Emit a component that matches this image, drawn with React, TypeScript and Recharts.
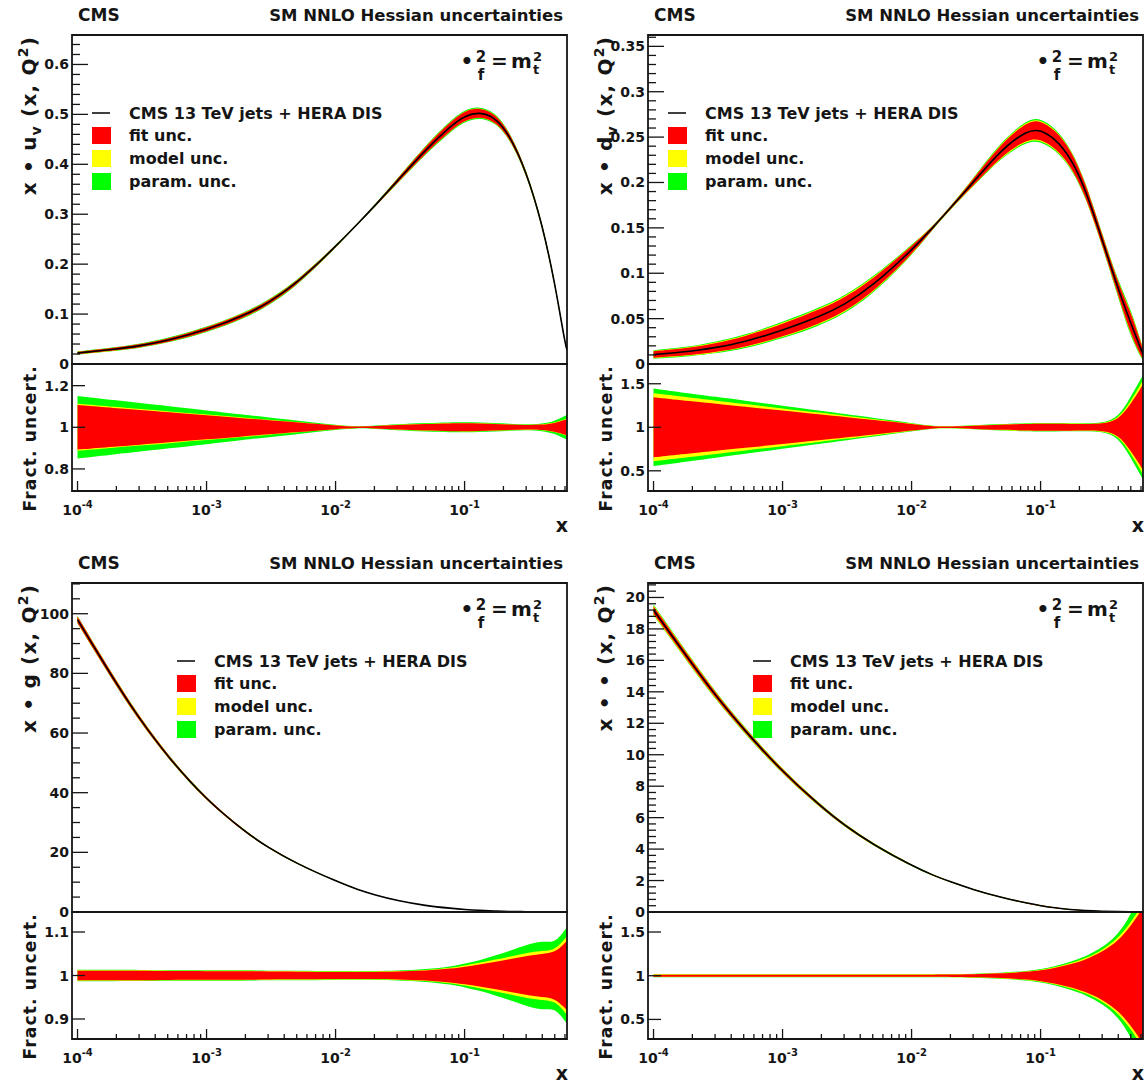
import React from 'react';
import { ComposedChart, Area, Line, XAxis, YAxis, ReferenceArea } from 'recharts';

// ---------------- data ----------------
const X = [1e-4, 2e-4, 3e-4, 5e-4, 1e-3, 2e-3, 3e-3, 5e-3, 0.01, 0.015, 0.02, 0.03, 0.05, 0.08, 0.1, 0.13, 0.17, 0.22, 0.3, 0.4, 0.5, 0.6, 0.622];
const X_DOMAIN: [number, number] = [9.06e-5, 0.622];
const X_MAJOR = [1e-4, 1e-3, 1e-2, 1e-1];
const X_MAJOR_EXP = ['-4', '-3', '-2', '-1'];

// x * u_v
const UV = [0.022, 0.030, 0.036, 0.047, 0.068, 0.098, 0.122, 0.161, 0.235, 0.282, 0.316, 0.366, 0.430, 0.479, 0.497, 0.505, 0.495, 0.462, 0.387, 0.280, 0.163, 0.042, 0.028];
const UV_FIT = [0.107, 0.092, 0.084, 0.073, 0.058, 0.043, 0.034, 0.024, 0.009, 0.002, 0.006, 0.011, 0.016, 0.019, 0.019, 0.018, 0.016, 0.013, 0.010, 0.012, 0.020, 0.035, 0.040];
const UV_MODEL = [0.113, 0.097, 0.088, 0.077, 0.061, 0.046, 0.036, 0.025, 0.0095, 0.002, 0.006, 0.012, 0.017, 0.020, 0.020, 0.019, 0.017, 0.014, 0.011, 0.013, 0.022, 0.038, 0.043];
const UV_PARAM = [0.150, 0.129, 0.117, 0.102, 0.081, 0.060, 0.048, 0.033, 0.012, 0.003, 0.008, 0.014, 0.021, 0.024, 0.024, 0.023, 0.021, 0.017, 0.013, 0.017, 0.030, 0.055, 0.060];

// x * d_v
const DV = [0.0105, 0.014, 0.018, 0.024, 0.037, 0.053, 0.065, 0.086, 0.125, 0.152, 0.172, 0.200, 0.237, 0.258, 0.258, 0.248, 0.228, 0.195, 0.137, 0.082, 0.045, 0.016, 0.011];
const DV_FIT = [0.345, 0.299, 0.272, 0.238, 0.192, 0.146, 0.119, 0.085, 0.038, 0.008, 0.008, 0.018, 0.030, 0.038, 0.040, 0.040, 0.039, 0.037, 0.040, 0.080, 0.27, 0.45, 0.50];
const DV_MODEL = [0.390, 0.338, 0.307, 0.269, 0.217, 0.165, 0.134, 0.096, 0.043, 0.009, 0.009, 0.020, 0.034, 0.042, 0.044, 0.044, 0.043, 0.040, 0.043, 0.090, 0.30, 0.50, 0.54];
const DV_PARAM = [0.445, 0.385, 0.351, 0.307, 0.247, 0.188, 0.153, 0.109, 0.049, 0.010, 0.010, 0.023, 0.038, 0.047, 0.050, 0.049, 0.047, 0.044, 0.048, 0.110, 0.35, 0.56, 0.60];

// x * g
const GL = [98, 76.5, 65, 52, 37.5, 26.8, 21.6, 16.2, 10.4, 7.4, 5.8, 3.8, 2.1, 1.2, 0.85, 0.55, 0.33, 0.18, 0.08, 0.03, 0.012, 0.004, 0.003];
const GL_FIT = [0.011, 0.011, 0.011, 0.010, 0.010, 0.010, 0.009, 0.009, 0.008, 0.008, 0.008, 0.009, 0.011, 0.016, 0.020, 0.025, 0.031, 0.037, 0.045, 0.050, 0.052, 0.075, 0.080];
const GL_MODEL = [0.012, 0.012, 0.012, 0.011, 0.011, 0.011, 0.010, 0.010, 0.009, 0.009, 0.009, 0.010, 0.012, 0.018, 0.023, 0.029, 0.036, 0.043, 0.052, 0.057, 0.058, 0.085, 0.090];
const GL_PARAM = [0.013, 0.013, 0.013, 0.012, 0.012, 0.012, 0.011, 0.011, 0.010, 0.010, 0.010, 0.011, 0.014, 0.021, 0.027, 0.035, 0.045, 0.056, 0.070, 0.080, 0.074, 0.105, 0.110];

// x * (sea)
const SE = [19.2, 15.75, 13.8, 11.6, 8.9, 6.68, 5.53, 4.30, 2.95, 2.30, 1.92, 1.42, 0.91, 0.55, 0.40, 0.26, 0.155, 0.09, 0.048, 0.02, 0.008, 0.003, 0.002];
const SE_FIT = [0.012, 0.012, 0.012, 0.012, 0.012, 0.012, 0.012, 0.012, 0.012, 0.012, 0.013, 0.016, 0.025, 0.045, 0.060, 0.090, 0.13, 0.18, 0.27, 0.40, 0.57, 0.74, 0.80];
const SE_MODEL = [0.016, 0.016, 0.016, 0.016, 0.016, 0.016, 0.016, 0.016, 0.016, 0.016, 0.016, 0.019, 0.029, 0.050, 0.066, 0.098, 0.14, 0.195, 0.29, 0.43, 0.61, 0.79, 0.86];
const SE_PARAM = [0.018, 0.018, 0.018, 0.018, 0.018, 0.018, 0.018, 0.018, 0.018, 0.018, 0.018, 0.022, 0.033, 0.056, 0.075, 0.110, 0.16, 0.215, 0.32, 0.47, 0.70, 0.95, 1.0];

// tick labels
const UV_TICKS = [0, 0.1, 0.2, 0.3, 0.4, 0.5, 0.6];
const UV_TICK_LABELS = ['0', '0.1', '0.2', '0.3', '0.4', '0.5', '0.6'];
const DV_TICKS = [0, 0.05, 0.1, 0.15, 0.2, 0.25, 0.3, 0.35];
const DV_TICK_LABELS = ['0', '0.05', '0.1', '0.15', '0.2', '0.25', '0.3', '0.35'];
const GL_TICKS = [0, 20, 40, 60, 80, 100];
const GL_TICK_LABELS = ['0', '20', '40', '60', '80', '100'];
const SE_TICKS = [0, 2, 4, 6, 8, 10, 12, 14, 16, 18, 20];
const SE_TICK_LABELS = ['0', '2', '4', '6', '8', '10', '12', '14', '16', '18', '20'];
const R_UV_TICKS = [0.8, 1, 1.2];
const R_UV_LABELS = ['0.8', '1', '1.2'];
const R_DV_TICKS = [0.5, 1, 1.5];
const R_DV_LABELS = ['0.5', '1', '1.5'];
const R_GL_TICKS = [0.9, 1, 1.1];
const R_GL_LABELS = ['0.9', '1', '1.1'];
const R_SE_TICKS = [0.5, 1, 1.5];
const R_SE_LABELS = ['0.5', '1', '1.5'];

const LEGEND_LINE = 'CMS 13 TeV jets + HERA DIS';
const LEGEND_BANDS = ['fit unc.', 'model unc.', 'param. unc.'];
const BAND_COLORS = ['#ff0000', '#ffff00', '#00ff00'];

// ---------------- helpers ----------------
const FONT = '"DejaVu Sans", "Liberation Sans", Arial, sans-serif';
const INK = '#151515';
const CURVE = 'basis';

function buildRows(c: number[], fit: number[], model: number[], param: number[]) {
  return X.map((x, i) => ({
    x,
    c: c[i],
    fit: [c[i] * (1 - fit[i]), c[i] * (1 + fit[i])],
    model: [c[i] * (1 - model[i]), c[i] * (1 + model[i])],
    param: [c[i] * (1 - param[i]), c[i] * (1 + param[i])],
    rfit: [1 - fit[i], 1 + fit[i]],
    rmodel: [1 - model[i], 1 + model[i]],
    rparam: [1 - param[i], 1 + param[i]],
  }));
}

function makeX() {
  const out: number[] = [];
  for (let e = -4; e <= -1; e++) {
    for (let k = 1; k <= 9; k++) {
      const v = k * Math.pow(10, e);
      if (v >= X_DOMAIN[0] && v <= X_DOMAIN[1]) out.push(+v.toPrecision(6));
    }
  }
  return out;
}
const X_TICKS = makeX();

function makeY(dom: [number, number], step: number) {
  const out: number[] = [];
  for (let k = 0; k < 1000; k++) {
    const v = +(dom[0] + k * step).toFixed(6);
    if (v > dom[1] + 1e-9) break;
    out.push(v);
  }
  return out;
}

const XTick = (props: any) => {
  const { x, y, payload, showLabel } = props;
  const v = payload.value;
  const idx = X_MAJOR.findIndex((m) => Math.abs(Math.log10(m) - Math.log10(v)) < 1e-6);
  const len = idx >= 0 ? 10 : 5;
  return (
    <g>
      <line x1={x} x2={x} y1={y} y2={y - len} stroke={INK} strokeWidth={1.3} />
      {showLabel && idx >= 0 && (
        <text x={x} y={y + 24} textAnchor="middle" fontFamily={FONT} fontWeight="bold" fontSize={14} fill={INK}>
          10<tspan dy={-7} fontSize={10}>{X_MAJOR_EXP[idx]}</tspan>
        </text>
      )}
    </g>
  );
};

const YTick = (props: any) => {
  const { x, y, payload, majors, labels, majorLen, minorLen } = props;
  const v = payload.value;
  const idx = majors.findIndex((m: number) => Math.abs(m - v) < 1e-6 * Math.max(1, Math.abs(m)));
  const len = idx >= 0 ? majorLen : minorLen;
  return (
    <g>
      <line x1={x} x2={x + len} y1={y} y2={y} stroke={INK} strokeWidth={1.3} />
      {idx >= 0 && (
        <text x={x - 3} y={y + 5} textAnchor="end" fontFamily={FONT} fontWeight="bold" fontSize={14} fill={INK}>
          {labels[idx]}
        </text>
      )}
    </g>
  );
};

function Subplot(props: any) {
  const { fl, fr, top, bottom, rows, yDom, yTicks, majors, labels, majorLen, minorLen, ratio, xAxisH } = props;
  const LW = 70;
  const PAD = 3;
  const fw = fr - fl;
  const fh = bottom - top;
  const k = ratio ? 'r' : '';
  return (
    <div style={{ position: 'absolute', left: fl - LW, top: top - PAD }}>
      <ComposedChart
        width={LW + fw + PAD}
        height={PAD + fh + xAxisH}
        data={rows}
        margin={{ top: PAD, right: PAD, bottom: 0, left: 0 }}
      >
        <XAxis
          dataKey="x"
          type="number"
          scale="log"
          domain={X_DOMAIN}
          allowDataOverflow
          ticks={X_TICKS}
          interval={0}
          height={xAxisH}
          tickSize={0}
          tickMargin={0}
          axisLine={false}
          tickLine={false}
          tick={(p: any) => <XTick {...p} showLabel={ratio} />}
        />
        <YAxis
          type="number"
          domain={yDom}
          allowDataOverflow
          ticks={yTicks}
          interval={0}
          width={LW}
          tickSize={0}
          tickMargin={0}
          axisLine={false}
          tickLine={false}
          tick={(p: any) => <YTick {...p} majors={majors} labels={labels} majorLen={majorLen} minorLen={minorLen} />}
        />
        <Area dataKey={k + 'param'} type={CURVE} fill={BAND_COLORS[2]} fillOpacity={1} stroke="none" isAnimationActive={false} />
        <Area dataKey={k + 'model'} type={CURVE} fill={BAND_COLORS[1]} fillOpacity={1} stroke="none" isAnimationActive={false} />
        <Area dataKey={k + 'fit'} type={CURVE} fill={BAND_COLORS[0]} fillOpacity={1} stroke="none" isAnimationActive={false} />
        {!ratio && (
          <Line dataKey="c" type={CURVE} stroke="#000" strokeWidth={1.6} dot={false} isAnimationActive={false} />
        )}
        <ReferenceArea x1={X_DOMAIN[0]} x2={X_DOMAIN[1]} y1={yDom[0]} y2={yDom[1]} fill="none" fillOpacity={0} stroke={INK} strokeWidth={1.8} />
      </ComposedChart>
    </div>
  );
}

type Part = { t: string; sub?: boolean; sup?: boolean };

const PANELS = [
  {
    fl: 72, fr: 567, ft: 35, fm: 364, fb: 491,
    rows: buildRows(UV, UV_FIT, UV_MODEL, UV_PARAM),
    yDom: [0, 0.659], yStep: 0.02, majors: UV_TICKS, labels: UV_TICK_LABELS,
    rDom: [0.694, 1.304], rMajors: R_UV_TICKS, rLabels: R_UV_LABELS,
    title: [{ t: 'x • u' }, { t: 'v', sub: true }, { t: ' (x, Q' }, { t: '2', sup: true }, { t: ')' }] as Part[],
    legDx: 20,
  },
  {
    fl: 648, fr: 1143, ft: 35, fm: 364, fb: 491,
    rows: buildRows(DV, DV_FIT, DV_MODEL, DV_PARAM),
    yDom: [0, 0.3625], yStep: 0.01, majors: DV_TICKS, labels: DV_TICK_LABELS,
    rDom: [0.268, 1.727], rMajors: R_DV_TICKS, rLabels: R_DV_LABELS,
    title: [{ t: 'x • d' }, { t: 'v', sub: true }, { t: ' (x, Q' }, { t: '2', sup: true }, { t: ')' }] as Part[],
    legDx: 20,
  },
  {
    fl: 72, fr: 567, ft: 583, fm: 912, fb: 1039,
    rows: buildRows(GL, GL_FIT, GL_MODEL, GL_PARAM),
    yDom: [0, 110.3], yStep: 5, majors: GL_TICKS, labels: GL_TICK_LABELS,
    rDom: [0.854, 1.146], rMajors: R_GL_TICKS, rLabels: R_GL_LABELS,
    title: [{ t: 'x • g (x, Q' }, { t: '2', sup: true }, { t: ')' }] as Part[],
    legDx: 105,
  },
  {
    fl: 648, fr: 1143, ft: 583, fm: 912, fb: 1039,
    rows: buildRows(SE, SE_FIT, SE_MODEL, SE_PARAM),
    yDom: [0, 20.92], yStep: 0.4, majors: SE_TICKS, labels: SE_TICK_LABELS,
    rDom: [0.276, 1.729], rMajors: R_SE_TICKS, rLabels: R_SE_LABELS,
    title: [{ t: 'x • • (x, Q' }, { t: '2', sup: true }, { t: ')' }] as Part[],
    legDx: 105,
  },
];

function RotTitle({ x, y, parts, size }: { x: number; y: number; parts: Part[]; size: number }) {
  let shift = 0;
  const spans = parts.map((p, i) => {
    const target = p.sub ? 5 : p.sup ? -8 : 0;
    const dy = target - shift;
    shift = target;
    return (
      <tspan key={i} dy={dy} fontSize={p.sub || p.sup ? size * 0.7 : size}>
        {p.t}
      </tspan>
    );
  });
  return (
    <text
      x={x}
      y={y}
      transform={`rotate(-90 ${x} ${y})`}
      textAnchor="end"
      fontSize={size}
      letterSpacing={1.2}
      style={{ whiteSpace: 'pre' }}
    >
      {spans}
    </text>
  );
}

function PanelText({ p }: { p: any }) {
  const { fl, fr, ft, fm, fb, legDx, title } = p;
  const lx = fl + legDx;
  return (
    <g fontFamily={FONT} fontWeight="bold" fill={INK}>
      <text x={fl + 6} y={ft - 14} fontSize={17}>CMS</text>
      <text x={fr - 4} y={ft - 14} fontSize={16.5} textAnchor="end">SM NNLO Hessian uncertainties</text>

      {/* mu_f^2 = m_t^2 */}
      <text x={fr - 100} y={ft + 33} fontSize={20} textAnchor="middle">•</text>
      <text x={fr - 86} y={ft + 27} fontSize={15} textAnchor="middle">2</text>
      <text x={fr - 86} y={ft + 45} fontSize={15} textAnchor="middle">f</text>
      <text x={fr - 76} y={ft + 33} fontSize={20}>=</text>
      <text x={fr - 56} y={ft + 33} fontSize={20}>m</text>
      <text x={fr - 34} y={ft + 39} fontSize={13}>t</text>
      <text x={fr - 34} y={ft + 26} fontSize={13}>2</text>

      {/* legend */}
      <line x1={lx} x2={lx + 18} y1={ft + 78} y2={ft + 78} stroke="#000" strokeWidth={1.5} />
      <text x={lx + 37} y={ft + 84} fontSize={16}>{LEGEND_LINE}</text>
      {LEGEND_BANDS.map((lab, i) => (
        <g key={lab}>
          <rect x={lx} y={ft + 92 + i * 23} width={19} height={17} fill={BAND_COLORS[i]} />
          <text x={lx + 37} y={ft + 106 + i * 23} fontSize={16}>{lab}</text>
        </g>
      ))}

      {/* axis titles */}
      <RotTitle x={fl - 36} y={ft + 1} parts={title} size={20} />
      <RotTitle x={fl - 36} y={fm + 1} parts={[{ t: 'Fract. uncert.' }]} size={17} />
      <text x={fr + 1} y={fb + 41} fontSize={19} textAnchor="end">x</text>
    </g>
  );
}

export default function App() {
  return (
    <div style={{ position: 'absolute', left: 0, top: 0, width: 1148, height: 1086, background: '#fff', overflow: 'hidden' }}>
      <style>{`.recharts-surface { overflow: visible; }`}</style>
      {PANELS.map((p, i) => (
        <React.Fragment key={i}>
          <Subplot
            fl={p.fl}
            fr={p.fr}
            top={p.ft}
            bottom={p.fm}
            rows={p.rows}
            yDom={p.yDom}
            yTicks={makeY(p.yDom as [number, number], p.yStep)}
            majors={p.majors}
            labels={p.labels}
            majorLen={16}
            minorLen={8}
            ratio={false}
            xAxisH={0}
          />
          <Subplot
            fl={p.fl}
            fr={p.fr}
            top={p.fm}
            bottom={p.fb}
            rows={p.rows}
            yDom={p.rDom}
            yTicks={p.rMajors}
            majors={p.rMajors}
            labels={p.rLabels}
            majorLen={13}
            minorLen={6}
            ratio={true}
            xAxisH={50}
          />
        </React.Fragment>
      ))}
      <svg width={1148} height={1086} style={{ position: 'absolute', left: 0, top: 0, pointerEvents: 'none' }}>
        {PANELS.map((p, i) => (
          <PanelText key={i} p={p} />
        ))}
      </svg>
    </div>
  );
}
